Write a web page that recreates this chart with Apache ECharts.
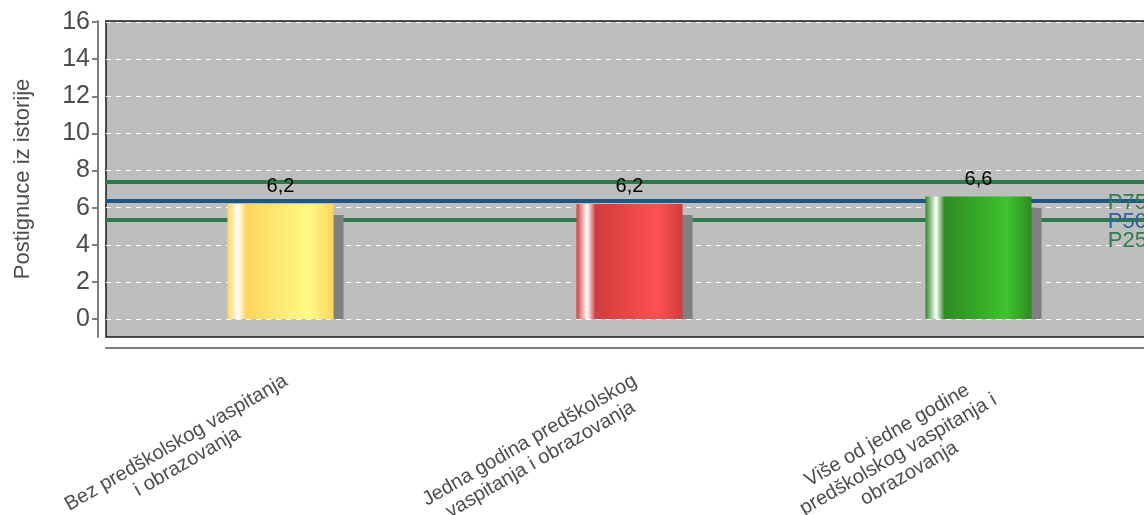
<!DOCTYPE html>
<html><head><meta charset="utf-8">
<script src="https://cdn.jsdelivr.net/npm/echarts@6/dist/echarts.min.js"></script>
<style>html,body{margin:0;padding:0;background:#fff}#c{width:1144px;height:515px}</style>
</head><body><div id="c"></div>
<script>
const categories = [
  'Bez predškolskog vaspitanja\ni obrazovanja',
  'Jedna godina predškolskog\nvaspitanja i obrazovanja',
  'Više od jedne godine\npredškolskog vaspitanja i\nobrazovanja'
];
const values = [6.2, 6.2, 6.6];
const percentileNames = ['P75', 'P50', 'P25'];
const percentileValues = [7.4, 6.35, 5.35];
const percentileColors = ['#2D7A4A', '#1E5783', '#2D7A4A'];
const percentileTextColors = ['#2E7D4F', '#2B63A0', '#2E7D4F'];
const barDark = ['#FFD55C', '#D03C3C', '#2E8B22'];
const barLight = ['#FFFA85', '#FF5151', '#3DC42D'];
const yAxisTitle = 'Postignuce iz istorije';

const chart = echarts.init(document.getElementById('c'), null, {renderer: 'canvas'});

function grad(i) {
  return new echarts.graphic.LinearGradient(0, 0, 1, 0, [
    {offset: 0, color: barDark[i]},
    {offset: 0.1, color: '#FFFFFF'},
    {offset: 0.18, color: barDark[i]},
    {offset: 0.77, color: barLight[i]},
    {offset: 1, color: barDark[i]}
  ]);
}

const fmt = v => String(v.toFixed(1)).replace('.', ',');
const FONT = 'Liberation Sans, Arial, sans-serif';

chart.setOption({
  animation: false,
  grid: [
    {left: 106, width: 1047, top: 21, height: 316, show: true, backgroundColor: '#BEBEBE', borderColor: '#1A1A1A', borderWidth: 1.5, outerBoundsMode: 'none', containLabel: false},
    {left: 106, width: 1047, top: 22, height: 297, show: false, outerBoundsMode: 'none', containLabel: false}
  ],
  xAxis: [
    {gridIndex: 0, type: 'value', show: false, min: 0, max: 1},
    {gridIndex: 1, type: 'category', data: categories, offset: 29,
     axisLine: {onZero: false, lineStyle: {color: '#7F7F7F', width: 2}},
     axisTick: {alignWithLabel: true, length: 5, lineStyle: {color: '#7F7F7F', width: 2}},
     axisLabel: {rotate: 30, align: 'right', verticalAlign: 'top', margin: 22,
       color: '#4D4D4D', fontFamily: FONT, fontSize: 20,
       formatter: v => v.split('\n').map(l => '{c|' + l + '}').join('\n'),
       rich: {c: {align: 'center', fontSize: 20, color: '#4D4D4D', fontFamily: FONT, lineHeight: 22}}}
    }
  ],
  yAxis: [
    {gridIndex: 0, type: 'value', min: -0.97, max: 16.05, offset: 8,
     axisLine: {show: true, onZero: false, lineStyle: {color: '#7F7F7F', width: 2}},
     axisTick: {show: false}, axisLabel: {show: false}, splitLine: {show: false},
     name: yAxisTitle, nameLocation: 'middle', nameRotate: 90, nameGap: 64,
     nameTextStyle: {fontSize: 22, color: '#4D4D4D', fontFamily: FONT}
    },
    {gridIndex: 1, type: 'value', min: 0, max: 16, interval: 2, offset: 8,
     axisLine: {show: false},
     axisTick: {show: true, length: 6, lineStyle: {color: '#7F7F7F', width: 2}},
     axisLabel: {fontSize: 25, color: '#4D4D4D', margin: 8, fontFamily: FONT},
     splitLine: {show: true, lineStyle: {color: '#FFFFFF', type: [5, 5], width: 1}}
    }
  ],
  series: [
    {type: 'line', xAxisIndex: 1, yAxisIndex: 1, data: [], z: 1, silent: true,
     markLine: {z: 1, silent: true, symbol: 'none', animation: false,
       data: percentileValues.map((v, i) => ({
         yAxis: v, name: percentileNames[i],
         lineStyle: {color: percentileColors[i], width: 4, type: 'solid'},
         label: {show: true, position: 'insideEndBottom', formatter: '{b}', distance: [6, 10],
           color: percentileTextColors[i], fontSize: 22, fontFamily: FONT}
       }))
     }
    },
    {type: 'custom', xAxisIndex: 1, yAxisIndex: 1, z: 2, silent: true,
     data: values.map((v, i) => [i, v]),
     encode: {x: 0, y: 1},
     renderItem: function (params, api) {
       const top = api.coord([api.value(0), api.value(1)]);
       const base = api.coord([api.value(0), 0]);
       const bw = api.size([1, 0])[0] * 0.304;
       return {type: 'rect', shape: {x: top[0] - bw / 2 + 10, y: top[1] + 11, width: bw, height: base[1] - top[1] - 11},
         style: {fill: '#808080'}};
     }
    },
    {type: 'bar', xAxisIndex: 1, yAxisIndex: 1, z: 3, barWidth: '30.4%',
     data: values.map((v, i) => ({value: v, itemStyle: {color: grad(i)}})),
     label: {show: true, position: 'top', distance: 7, fontSize: 20, color: '#000',
       fontFamily: FONT, formatter: p => fmt(p.value)}
    }
  ]
});
</script></body></html>
